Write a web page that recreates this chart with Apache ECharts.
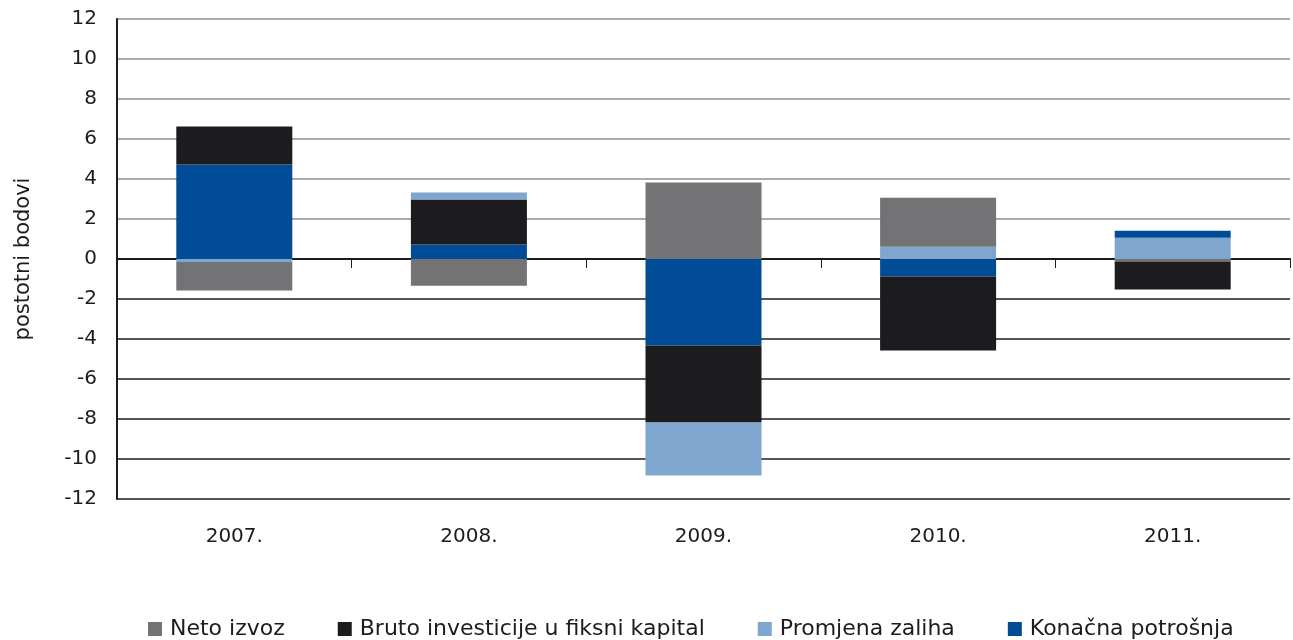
<!DOCTYPE html>
<html>
<head>
<meta charset="utf-8">
<script src="https://cdn.jsdelivr.net/npm/echarts@6/dist/echarts.min.js"></script>
<style>
    html, body { margin: 0; padding: 0; background: #fff; }
    #chart { width: 1293px; height: 640px; }
</style>
</head>
<body>
<div id="chart"></div>
<script>
// godine
var years = ['2007.', '2008.', '2009.', '2010.', '2011.'];
// doprinosi rastu BDP-a, postotni bodovi
var netoIzvoz = [-1.43, -1.34, 3.82, 2.45, -0.12];
var brutoInvesticije = [1.9, 2.25, -3.85, -3.7, -1.4];
var promjenaZaliha = [-0.15, 0.35, -2.64, 0.61, 1.06];
var konacnaPotrosnja = [4.72, 0.72, -4.33, -0.88, 0.35];
var yTicks = [-12, -10, -8, -6, -4, -2, 0, 2, 4, 6, 8, 10, 12];

// u 2011. je redoslijed slaganja drugaciji
var drugiRed = 4;

var boje = {
    neto: '#737375',
    bruto: '#1c1b1e',
    zalihe: '#7ea6cf',
    potrosnja: '#004c97'
};
var font = 'DejaVu Sans';

function samo(arr, i) {
    return arr.map(function (v, k) { return k == i ? v : '-'; });
}
function osim(arr, i) {
    return arr.map(function (v, k) { return k == i ? '-' : v; });
}
function serija(name, data, color) {
    return {
        name: name,
        type: 'bar',
        stack: 'ukupno',
        barWidth: 116,
        data: data,
        itemStyle: { color: color }
    };
}

// boje mreze: ispod nule tamne, iznad sive
var mrezaBoje = yTicks.map(function (t) { return t <= 0 ? '#1c1b1e' : '#8e8e8e'; });

var myChart = echarts.init(document.getElementById('chart'));
var option = {
    animation: false,
    textStyle: { fontFamily: font, color: '#1c1b1e' },
    grid: { left: 117, right: 3, top: 19, bottom: 141 },
    legend: {
        data: ['Neto izvoz', 'Bruto investicije u fiksni kapital', 'Promjena zaliha', 'Konačna potrošnja'],
        left: 143,
        top: 613,
        icon: 'rect',
        itemWidth: 14,
        itemHeight: 14,
        itemGap: 53,
        textStyle: { fontFamily: font, fontSize: 22, color: '#1c1b1e', padding: [0, 0, 0, 3] }
    },
    xAxis: [{
        type: 'category',
        data: years,
        axisLine: { onZero: true, lineStyle: { color: '#1c1b1e', width: 2 } },
        axisTick: { show: true, length: 9, lineStyle: { color: '#1c1b1e', width: 1 } },
        axisLabel: { show: false }
    }, {
        type: 'category',
        data: years,
        position: 'bottom',
        axisLine: { show: false, onZero: false },
        axisTick: { show: false },
        axisLabel: { margin: 28, fontSize: 20, color: '#1c1b1e', fontFamily: font }
    }],
    yAxis: {
        type: 'value',
        min: -12,
        max: 12,
        interval: 2,
        name: 'postotni bodovi',
        nameLocation: 'middle',
        nameRotate: 90,
        nameGap: 83,
        nameTextStyle: { fontSize: 21, color: '#1c1b1e', fontFamily: font },
        axisLine: { show: true, lineStyle: { color: '#1c1b1e', width: 2 } },
        axisTick: { show: false },
        axisLabel: { margin: 20, fontSize: 20, color: '#1c1b1e', fontFamily: font },
        splitLine: { show: true, lineStyle: { color: mrezaBoje, width: 1.5 } }
    },
    series: [
        serija('Neto izvoz', samo(netoIzvoz, drugiRed), boje.neto),
        serija('Konačna potrošnja', osim(konacnaPotrosnja, drugiRed), boje.potrosnja),
        serija('Bruto investicije u fiksni kapital', brutoInvesticije, boje.bruto),
        serija('Promjena zaliha', promjenaZaliha, boje.zalihe),
        serija('Neto izvoz', osim(netoIzvoz, drugiRed), boje.neto),
        serija('Konačna potrošnja', samo(konacnaPotrosnja, drugiRed), boje.potrosnja)
    ]
};
myChart.setOption(option);
</script>
</body>
</html>
